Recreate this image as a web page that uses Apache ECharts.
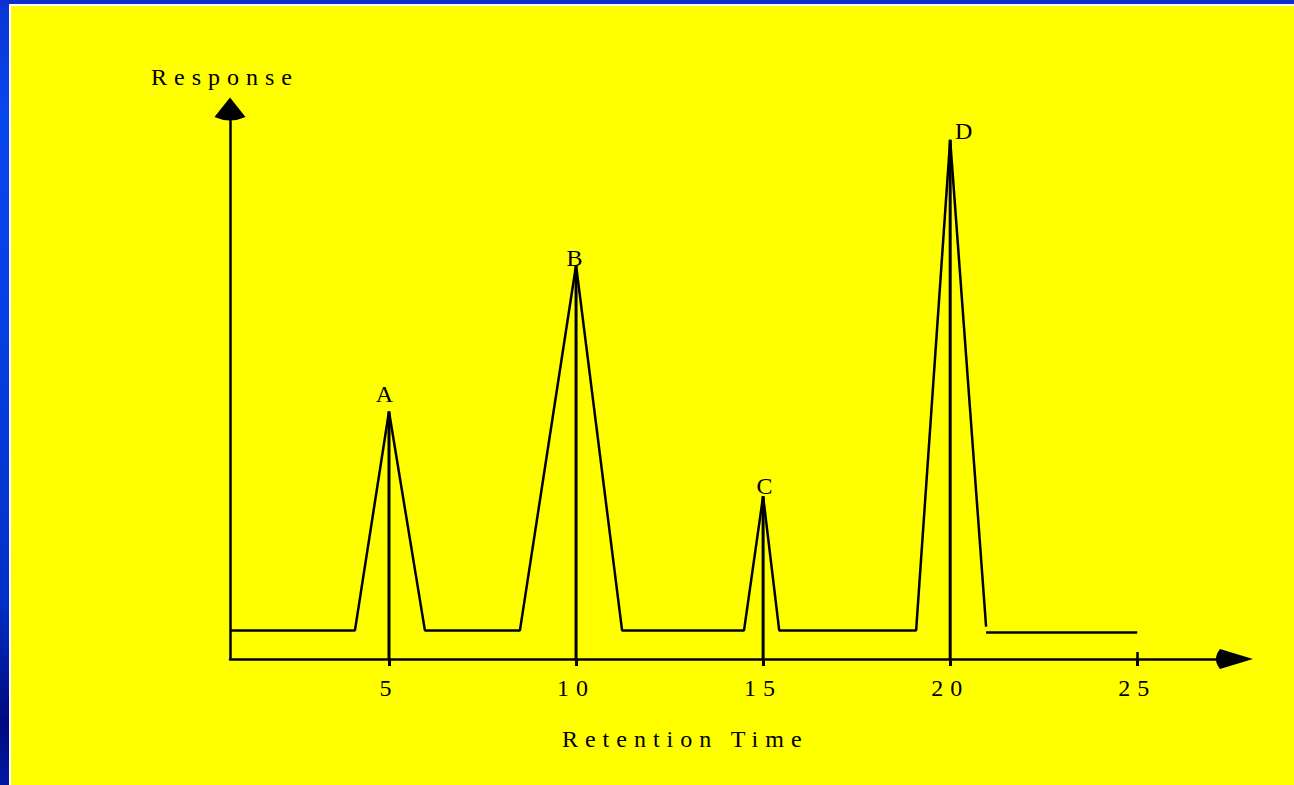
<!DOCTYPE html>
<html>
<head>
<meta charset="utf-8">
<script src="https://cdn.jsdelivr.net/npm/echarts@6/dist/echarts.min.js"></script>
<style>
html,body{margin:0;padding:0;width:1294px;height:785px;overflow:hidden;background:#0030c8;}
#leftband{position:absolute;left:0;top:0;width:9px;height:785px;
  background:linear-gradient(to bottom,#0a34d2 0%,#0846ee 14%,#0640e4 40%,#0030c8 76%,#000a80 92%,#0018a0 100%);}
#topband{position:absolute;left:0;top:0;width:1294px;height:4px;background:#0a2ecf;}
#white{position:absolute;left:9px;top:4px;width:1285px;height:781px;background:#ffffff;}
#yellow{position:absolute;left:11px;top:6px;width:1283px;height:779px;background:#ffff00;}
#chart{position:absolute;left:0;top:0;width:1294px;height:785px;}
#chart text{letter-spacing:7px;}
</style>
</head>
<body>
<div id="leftband"></div>
<div id="topband"></div>
<div id="white"></div>
<div id="yellow"></div>
<div id="chart"></div>
<script>
// ---- data ----
const peakLabels = ['A', 'B', 'C', 'D'];
const peakTimes = [5, 10, 15, 20];
const peakHeights = [45, 71.6, 29.6, 94.4];
const traceTimes = [0.75, 4.09, 5, 5.96, 8.5, 10, 11.23, 14.49, 15, 15.43, 19.09, 20, 20.96];
const traceResponses = [5.2, 5.2, 45, 5.2, 5.2, 71.6, 5.2, 5.2, 29.6, 5.2, 5.2, 94.4, 5.9];
const tailTimes = [20.96, 25];
const tailResponses = [4.8, 4.8];
const tickValues = [5, 10, 15, 20, 25];
const axisTitles = { x: 'Retention Time', y: 'Response' };

// ---- styling ----
const FONT = 'Liberation Serif';
const labelOffsets = [[-1, -6], [2, 5], [5, 2], [17, 3]];
const ARROW_Y = 'path://M15.5,0 L31,19.5 Q15.5,26.5 0,19.5 Z';
const ARROW_X = 'path://M10,0 L20,33 Q10,41 0,33 Z';

const chart = echarts.init(document.getElementById('chart'), null, { renderer: 'svg' });

const series = [];
series.push({
  type: 'line', symbol: 'none', silent: true,
  data: traceTimes.map((t, i) => [t, traceResponses[i]]),
  lineStyle: { color: '#000', width: 2.5 }
});
series.push({
  type: 'line', symbol: 'none', silent: true,
  data: tailTimes.map((t, i) => [t, tailResponses[i]]),
  lineStyle: { color: '#000', width: 2.5 }
});
peakTimes.forEach((t, i) => {
  series.push({
    type: 'line', symbol: 'none', silent: true,
    data: [[t, peakHeights[i]], [t, 0]],
    lineStyle: { color: '#000', width: 3 }
  });
});
series.push({
  type: 'scatter', symbolSize: 0, silent: true,
  itemStyle: { color: '#000' },
  data: peakTimes.map((t, i) => ({
    value: [t, peakHeights[i]],
    name: peakLabels[i],
    label: { offset: labelOffsets[i] }
  })),
  label: {
    show: true, position: 'top', distance: 0,
    formatter: p => p.name,
    color: '#000', opacity: 1, textBorderWidth: 0,
    fontFamily: FONT, fontSize: 24
  }
});

chart.setOption({
  backgroundColor: 'transparent',
  animation: false,
  grid: { left: 230, top: 109, right: 59.5, bottom: 126, containLabel: false },
  xAxis: [{
    type: 'value', min: 0.75, max: 27.6, position: 'bottom',
    name: axisTitles.x, nameLocation: 'middle', nameGap: 68,
    nameTextStyle: { color: '#000', fontFamily: FONT, fontSize: 24, padding: [0, 94, 0, 0] },
    axisLine: { show: true, onZero: false, symbol: ['none', ARROW_X], symbolSize: [20, 37],
      lineStyle: { color: '#000', width: 2.5 } },
    axisTick: { show: true, customValues: tickValues, length: 7, lineStyle: { color: '#000', width: 3 } },
    axisLabel: { customValues: tickValues, margin: 17, color: '#000', fontFamily: FONT, fontSize: 24 },
    splitLine: { show: false }
  }, {
    type: 'value', min: 0.75, max: 27.6, position: 'bottom',
    axisLine: { show: false },
    axisTick: { show: true, inside: true, customValues: [25], length: 7, lineStyle: { color: '#000', width: 2.5 } },
    axisLabel: { show: false },
    splitLine: { show: false }
  }],
  yAxis: {
    type: 'value', min: 0, max: 100,
    name: axisTitles.y, nameLocation: 'end', nameGap: 20,
    nameTextStyle: { color: '#000', fontFamily: FONT, fontSize: 24, padding: [0, 10, 0, 0] },
    axisLine: { show: true, onZero: false, symbol: ['none', ARROW_Y], symbolSize: [31, 23],
      lineStyle: { color: '#000', width: 2.5 } },
    axisTick: { show: false },
    axisLabel: { show: false },
    splitLine: { show: false }
  },
  series: series
});
</script>
</body>
</html>
